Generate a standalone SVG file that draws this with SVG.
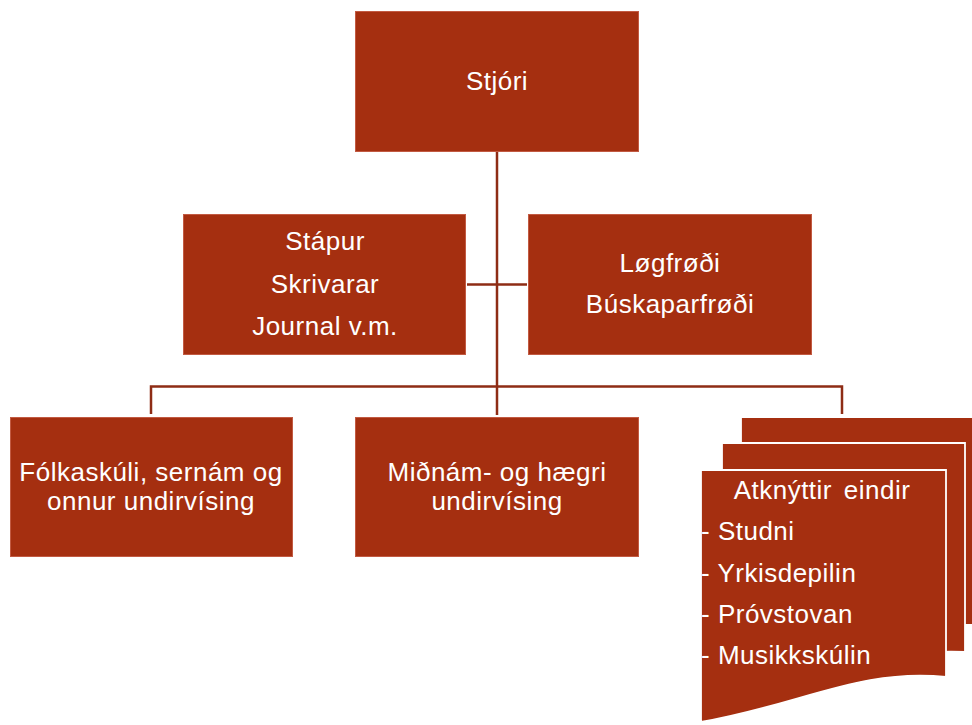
<svg xmlns="http://www.w3.org/2000/svg" width="972" height="725" viewBox="0 0 972 725">
<style>
.box{fill:#A52F10;stroke:#C25A42;stroke-width:1}
.page{fill:#A52F10;stroke:#ffffff;stroke-width:1.8}
.t{font-family:"Liberation Sans",Arial,sans-serif;font-size:26px;fill:#ffffff;text-anchor:middle;letter-spacing:0.5px}
.l{text-anchor:start}
.c{fill:none;stroke:#8E2C15;stroke-width:2.5}
</style>
<rect width="972" height="725" fill="#ffffff"/>
<g id="connectors">
<line class="c" x1="497" y1="152" x2="497" y2="415"/>
<line class="c" x1="467" y1="284.5" x2="527" y2="284.5"/>
<polyline class="c" points="151,414 151,386.5 842,386.5 842,414"/>
</g>
<g id="stjori">
<rect class="box" x="355.5" y="11.5" width="283" height="140"/>
<text class="t" x="497" y="90">Stjóri</text>
</g>
<g id="stapur">
<rect class="box" x="183.5" y="214.5" width="282" height="140"/>
<text class="t" x="325" y="250">Stápur</text>
<text class="t" x="325" y="293">Skrivarar</text>
<text class="t" x="325" y="335">Journal v.m.</text>
</g>
<g id="logfrodi">
<rect class="box" x="528.5" y="214.5" width="283" height="140"/>
<text class="t" x="670" y="272">Løgfrøði</text>
<text class="t" x="670" y="313">Búskaparfrøði</text>
</g>
<g id="folkaskuli">
<rect class="box" x="10.5" y="417.5" width="282" height="139"/>
<text class="t" x="151" y="481">Fólkaskúli, sernám og</text>
<text class="t" x="151" y="510">onnur undirvísing</text>
</g>
<g id="midnam">
<rect class="box" x="355.5" y="417.5" width="283" height="139"/>
<text class="t" x="497" y="481">Miðnám- og hægri</text>
<text class="t" x="497" y="510">undirvísing</text>
</g>
<g id="atknyttir">
<path class="page" d="M741,417 H990 V625 H741 Z"/>
<path class="page" d="M722,443 H965 V652 C900,648 840,672 722,690 Z"/>
<path class="page" d="M701,470 H946 V677 C860,668 800,705 701,722 Z"/>
<text class="t" x="822" y="499" word-spacing="4">Atknýttir eindir</text>
<text class="t l" x="701" y="540">- Studni</text>
<text class="t l" x="701" y="582">- Yrkisdepilin</text>
<text class="t l" x="701" y="623">- Próvstovan</text>
<text class="t l" x="701" y="664">- Musikkskúlin</text>
</g>
</svg>
